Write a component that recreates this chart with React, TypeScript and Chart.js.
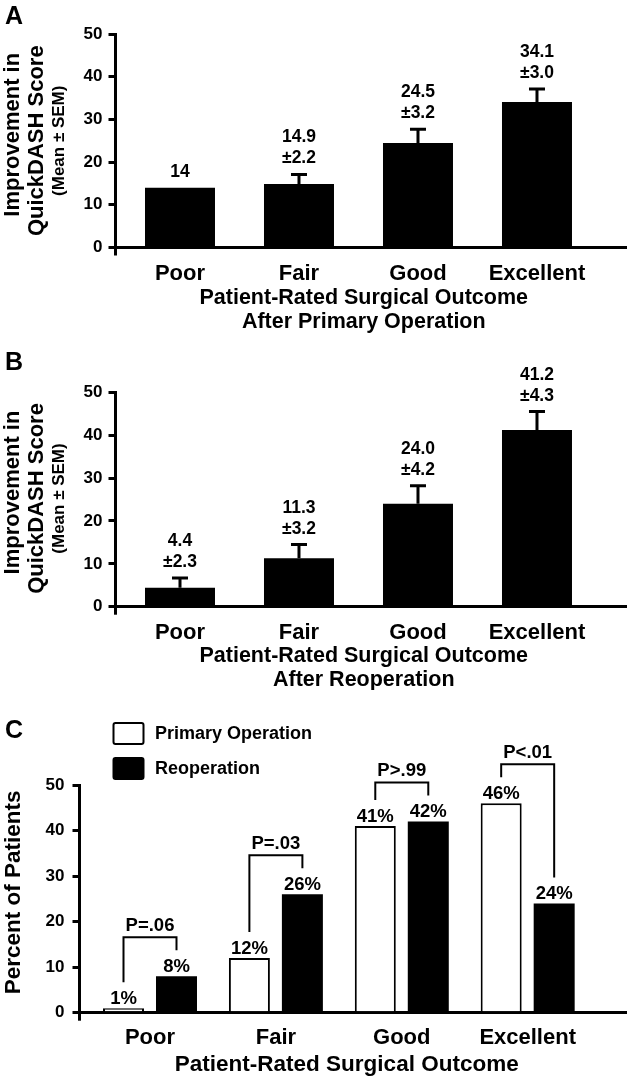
import React, { useEffect, useRef } from 'react';
import { Chart, registerables } from 'chart.js';

Chart.register(...registerables);

const FONT = "'Liberation Sans', Arial, Helvetica, sans-serif";

// ---------- data ----------
const categories = ['Poor', 'Fair', 'Good', 'Excellent'];
const yMax = 50;
const yStep = 10;

// Panel A: improvement after primary operation
const primaryImprovementMean = [14, 14.9, 24.5, 34.1];
const primaryImprovementSem: (number | null)[] = [null, 2.2, 3.2, 3.0];

// Panel B: improvement after reoperation
const reopImprovementMean = [4.4, 11.3, 24.0, 41.2];
const reopImprovementSem: (number | null)[] = [2.3, 3.2, 4.2, 4.3];

// Panel C: percent of patients
const primaryPercent = [1, 12, 41, 46];
const reopPercent = [8, 26, 42, 24];
const pValueLabels = ['P=.06', 'P=.03', 'P>.99', 'P<.01'];
const legendLabels = ['Primary Operation', 'Reoperation'];

const yTitleImprovement = ['Improvement in', 'QuickDASH Score', '(Mean ± SEM)'];
const xTitleA = ['Patient-Rated Surgical Outcome', 'After Primary Operation'];
const xTitleB = ['Patient-Rated Surgical Outcome', 'After Reoperation'];
const xTitleC = ['Patient-Rated Surgical Outcome'];
const yTitleC = ['Percent of Patients'];

// ---------- helpers ----------
const f = (size: number) => ({ family: FONT, size, weight: 'bold' as const });

function scalesFor(o: { xMin: number; xMax: number; yWidth: number; xHeight: number; xPad: number; yPad: number }) {
  return {
    x: {
      type: 'linear' as const,
      min: o.xMin,
      max: o.xMax,
      offset: false,
      afterBuildTicks: (s: any) => {
        s.ticks = categories.map((_, i) => ({ value: i }));
      },
      afterFit: (s: any) => {
        s.height = o.xHeight;
      },
      ticks: {
        callback: (v: any) => categories[v] ?? '',
        font: f(22),
        color: '#000',
        padding: o.xPad,
        maxRotation: 0,
        autoSkip: false,
      },
      grid: { display: false, offset: false },
      border: { display: true, color: '#000', width: 3 },
    },
    y: {
      min: 0,
      max: yMax,
      afterFit: (s: any) => {
        s.width = o.yWidth;
      },
      ticks: { stepSize: yStep, font: f(17), color: '#000', padding: o.yPad },
      grid: { display: true, drawOnChartArea: false, drawTicks: true, tickLength: 7, lineWidth: 3, color: '#000' },
      border: { display: true, color: '#000', width: 3 },
    },
  };
}

type Line = { text: string; size: number; x: number; dy: number };

function decorPlugin(o: {
  letter: string;
  letterY: number;
  yLines: Line[];
  xLines: { text: string; size: number; dy: number }[];
  xShift: number;
}) {
  return {
    id: 'decor',
    afterDraw(chart: any) {
      const { ctx, chartArea } = chart;
      ctx.save();
      ctx.fillStyle = '#000';
      ctx.strokeStyle = '#000';
      // y axis stub below x axis
      const ax = Math.round(chartArea.left - 1.5) + 1.5;
      ctx.lineWidth = 3;
      ctx.beginPath();
      ctx.moveTo(ax, chartArea.bottom);
      ctx.lineTo(ax, chartArea.bottom + 8);
      ctx.stroke();
      // panel letter
      ctx.font = `bold 25px ${FONT}`;
      ctx.textAlign = 'left';
      ctx.textBaseline = 'alphabetic';
      ctx.fillText(o.letter, 5, o.letterY);
      // y titles (rotated)
      const cy = (chartArea.top + chartArea.bottom) / 2;
      ctx.textAlign = 'center';
      o.yLines.forEach((l) => {
        ctx.save();
        ctx.translate(l.x, cy + l.dy);
        ctx.rotate(-Math.PI / 2);
        ctx.font = `bold ${l.size}px ${FONT}`;
        ctx.fillText(l.text, 0, 0);
        ctx.restore();
      });
      // x titles
      const cx = (chartArea.left + chartArea.right) / 2 + o.xShift;
      o.xLines.forEach((l) => {
        ctx.font = `bold ${l.size}px ${FONT}`;
        ctx.fillText(l.text, cx, chartArea.bottom + l.dy);
      });
      ctx.restore();
    },
  };
}

function errorBarPlugin(means: number[], sems: (number | null)[]) {
  return {
    id: 'errbars',
    afterDatasetsDraw(chart: any) {
      const { ctx } = chart;
      const meta = chart.getDatasetMeta(0);
      const y = chart.scales.y;
      ctx.save();
      ctx.strokeStyle = '#000';
      ctx.fillStyle = '#000';
      ctx.lineWidth = 3;
      ctx.font = `bold 17.5px ${FONT}`;
      ctx.textAlign = 'center';
      ctx.textBaseline = 'alphabetic';
      meta.data.forEach((bar: any, i: number) => {
        const sem = sems[i];
        let topPx = bar.y;
        if (sem != null) {
          const ePx = y.getPixelForValue(means[i] + sem);
          ctx.beginPath();
          ctx.moveTo(bar.x, bar.y);
          ctx.lineTo(bar.x, ePx);
          ctx.moveTo(bar.x - 8, ePx);
          ctx.lineTo(bar.x + 8, ePx);
          ctx.stroke();
          topPx = ePx;
        }
        const lines = sem == null ? [String(means[i])] : [means[i].toFixed(1), '±' + sem.toFixed(1)];
        lines.forEach((t, k) => ctx.fillText(t, bar.x, topPx - 11 - (lines.length - 1 - k) * 21));
      });
      ctx.restore();
    },
  };
}

const panelCPlugin = {
  id: 'panelC',
  afterDatasetsDraw(chart: any) {
    const { ctx, chartArea } = chart;
    const m0 = chart.getDatasetMeta(0);
    const m1 = chart.getDatasetMeta(1);
    ctx.save();
    ctx.fillStyle = '#000';
    ctx.strokeStyle = '#000';
    // percent labels
    ctx.font = `bold 18.5px ${FONT}`;
    ctx.textAlign = 'center';
    ctx.textBaseline = 'alphabetic';
    m0.data.forEach((b: any, i: number) => ctx.fillText(primaryPercent[i] + '%', b.x, b.y - 4));
    m1.data.forEach((b: any, i: number) => ctx.fillText(reopPercent[i] + '%', b.x, b.y - 4));
    // brackets
    ctx.lineWidth = 2;
    categories.forEach((_, i) => {
      const a = m0.data[i];
      const b = m1.data[i];
      const la = a.y - 26;
      const lb = b.y - 26;
      const top = Math.min(la, lb) - 13;
      ctx.beginPath();
      ctx.moveTo(a.x, la);
      ctx.lineTo(a.x, top);
      ctx.lineTo(b.x, top);
      ctx.lineTo(b.x, lb);
      ctx.stroke();
      ctx.fillText(pValueLabels[i], (a.x + b.x) / 2, top - 6);
    });
    // legend
    const boxTops = [chartArea.top - 63, chartArea.top - 28];
    const ds = chart.data.datasets;
    boxTops.forEach((t, i) => {
      ctx.beginPath();
      ctx.roundRect(113.5, t + 1, 30, 21, 2);
      ctx.fillStyle = ds[i].backgroundColor;
      ctx.fill();
      ctx.lineWidth = 2;
      ctx.strokeStyle = '#000';
      ctx.stroke();
      ctx.fillStyle = '#000';
      ctx.font = `bold 18px ${FONT}`;
      ctx.textAlign = 'left';
      ctx.textBaseline = 'middle';
      ctx.fillText(legendLabels[i], 155, t + 12);
    });
    ctx.restore();
  },
};

// ---------- chart configs ----------
function configA() {
  return {
    type: 'bar' as const,
    data: {
      datasets: [
        {
          label: 'Primary Operation',
          data: categories.map((_, i) => ({ x: i, y: primaryImprovementMean[i] })),
          backgroundColor: '#000',
          borderWidth: 0,
          categoryPercentage: 1,
          barPercentage: 70 / 119,
        },
      ],
    },
    options: {
      responsive: false,
      animation: false as const,
      devicePixelRatio: 1,
      events: [],
      layout: { padding: { left: 0, top: 34, right: 2, bottom: 0 } },
      plugins: { legend: { display: false }, tooltip: { enabled: false } },
      scales: scalesFor({ xMin: -0.542, xMax: 3.748, yWidth: 115.5, xHeight: 92.5, xPad: 5, yPad: 6 }),
    },
    plugins: [
      errorBarPlugin(primaryImprovementMean, primaryImprovementSem),
      decorPlugin({
        letter: 'A',
        letterY: 24,
        yLines: [
          { text: yTitleImprovement[0], size: 22, x: 19, dy: -6 },
          { text: yTitleImprovement[1], size: 22, x: 43, dy: 0 },
          { text: yTitleImprovement[2], size: 17, x: 64, dy: 0 },
        ],
        xLines: [
          { text: xTitleA[0], size: 21.5, dy: 56.5 },
          { text: xTitleA[1], size: 21.5, dy: 80.5 },
        ],
        xShift: -7,
      }),
    ],
  };
}

function configB() {
  return {
    type: 'bar' as const,
    data: {
      datasets: [
        {
          label: 'Reoperation',
          data: categories.map((_, i) => ({ x: i, y: reopImprovementMean[i] })),
          backgroundColor: '#000',
          borderWidth: 0,
          categoryPercentage: 1,
          barPercentage: 70 / 119,
        },
      ],
    },
    options: {
      responsive: false,
      animation: false as const,
      devicePixelRatio: 1,
      events: [],
      layout: { padding: { left: 0, top: 52.3, right: 2, bottom: 0 } },
      plugins: { legend: { display: false }, tooltip: { enabled: false } },
      scales: scalesFor({ xMin: -0.542, xMax: 3.748, yWidth: 115.5, xHeight: 83.3, xPad: 5, yPad: 6 }),
    },
    plugins: [
      errorBarPlugin(reopImprovementMean, reopImprovementSem),
      decorPlugin({
        letter: 'B',
        letterY: 30,
        yLines: [
          { text: yTitleImprovement[0], size: 22, x: 19, dy: -7 },
          { text: yTitleImprovement[1], size: 22, x: 43, dy: -1 },
          { text: yTitleImprovement[2], size: 17, x: 64, dy: -1 },
        ],
        xLines: [
          { text: xTitleB[0], size: 21.5, dy: 55.5 },
          { text: xTitleB[1], size: 21.5, dy: 79.5 },
        ],
        xShift: -7,
      }),
    ],
  };
}

function configC() {
  return {
    type: 'bar' as const,
    data: {
      datasets: [
        {
          label: legendLabels[0],
          data: categories.map((_, i) => ({ x: i, y: primaryPercent[i] })),
          backgroundColor: '#fff',
          borderColor: '#000',
          borderWidth: 2,
          categoryPercentage: 106 / 125.9,
          barPercentage: 41 / 53,
        },
        {
          label: legendLabels[1],
          data: categories.map((_, i) => ({ x: i, y: reopPercent[i] })),
          backgroundColor: '#000',
          borderColor: '#000',
          borderWidth: 0,
          categoryPercentage: 106 / 125.9,
          barPercentage: 41 / 53,
        },
      ],
    },
    options: {
      responsive: false,
      animation: false as const,
      devicePixelRatio: 1,
      events: [],
      layout: { padding: { left: 0, top: 95, right: 2, bottom: 0 } },
      plugins: { legend: { display: false }, tooltip: { enabled: false } },
      scales: scalesFor({ xMin: -0.56, xMax: 3.781, yWidth: 79.5, xHeight: 65.3, xPad: 4, yPad: 8 }),
    },
    plugins: [
      panelCPlugin,
      decorPlugin({
        letter: 'C',
        letterY: 48,
        yLines: [{ text: yTitleC[0], size: 22.5, x: 20, dy: -6.5 }],
        xLines: [{ text: xTitleC[0], size: 22.5, dy: 58 }],
        xShift: -6,
      }),
    ],
  };
}

function Panel({ top, height, make }: { top: number; height: number; make: () => any }) {
  const ref = useRef<HTMLCanvasElement>(null);
  useEffect(() => {
    const chart = new Chart(ref.current as HTMLCanvasElement, make());
    return () => chart.destroy();
  }, []);
  return (
    <canvas
      ref={ref}
      width={628}
      height={height}
      style={{ position: 'absolute', left: 0, top, width: 628, height, display: 'block' }}
    />
  );
}

export default function App() {
  useEffect(() => {
    document.body.style.margin = '0';
  }, []);
  return (
    <div style={{ position: 'absolute', left: 0, top: 0, width: 628, height: 1078, background: '#fff' }}>
      <Panel top={0} height={340} make={configA} />
      <Panel top={340} height={350} make={configB} />
      <Panel top={690} height={388} make={configC} />
    </div>
  );
}
